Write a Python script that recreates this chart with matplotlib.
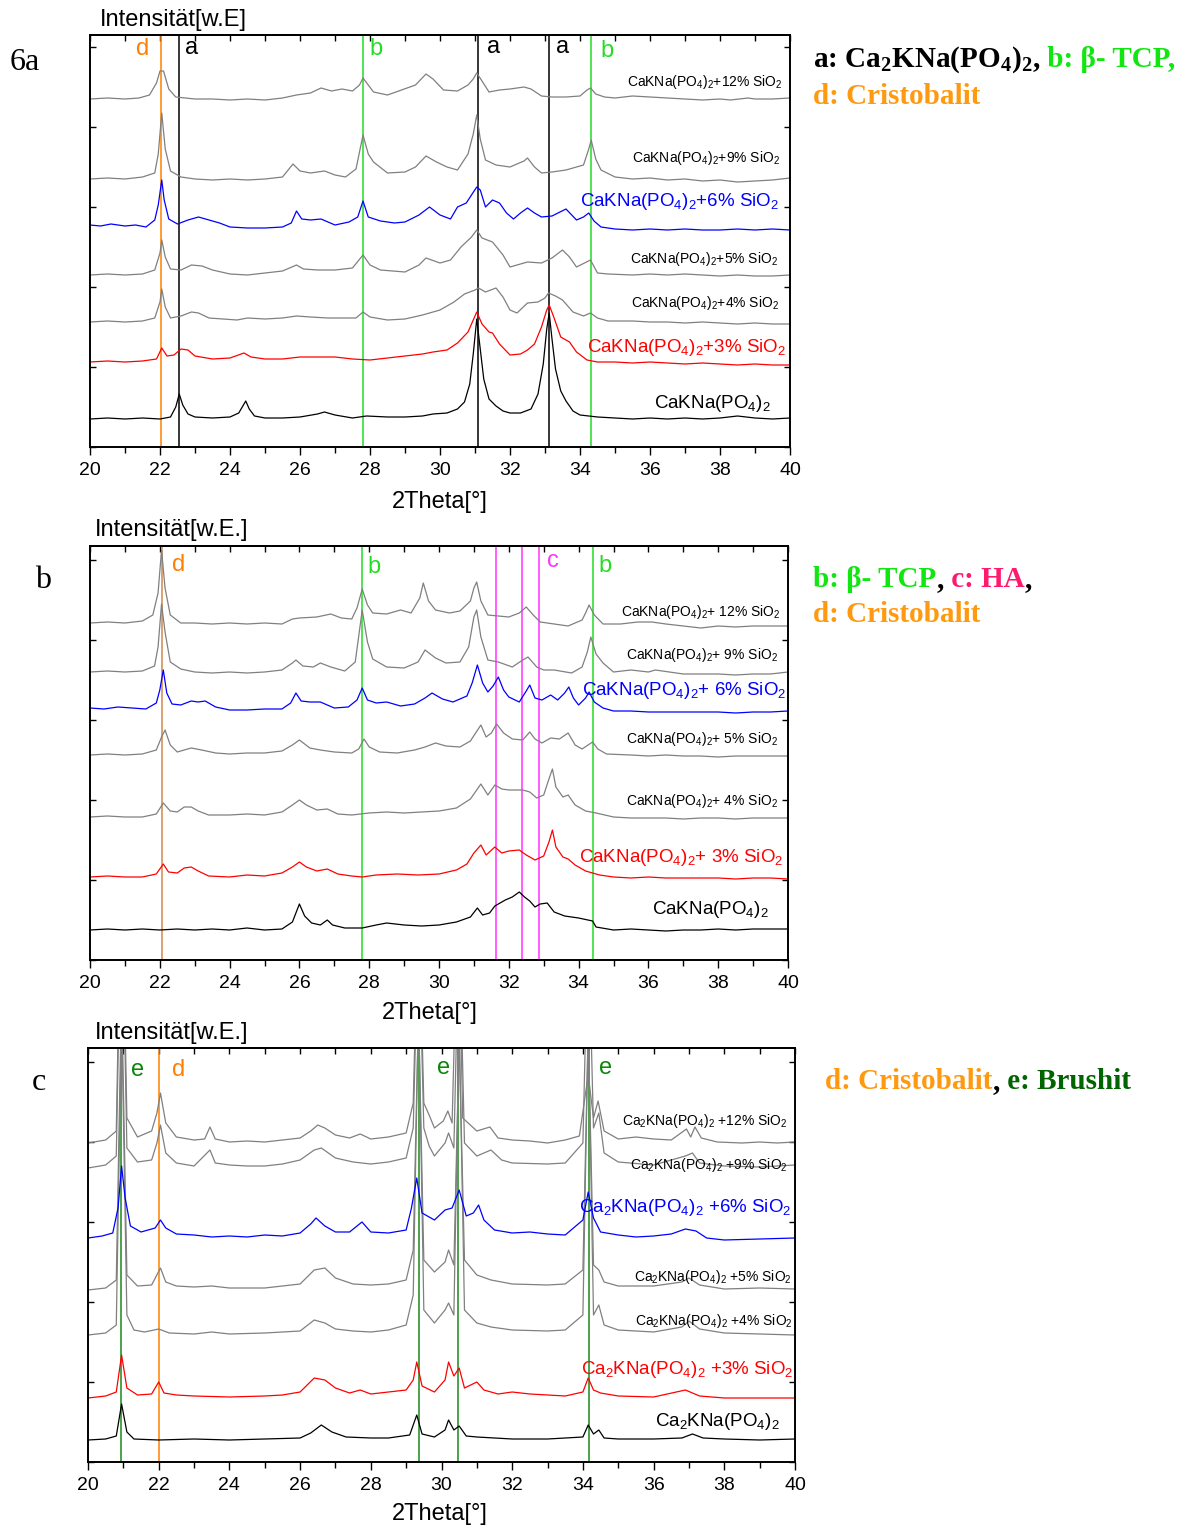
import matplotlib
matplotlib.use('Agg')
import matplotlib.pyplot as plt
import matplotlib.transforms as mtransforms
from matplotlib.ticker import MultipleLocator

plt.rcParams['font.family'] = ['Liberation Sans', 'DejaVu Sans']
plt.rcParams['mathtext.fontset'] = 'custom'
plt.rcParams['mathtext.rm'] = 'Liberation Sans'
plt.rcParams['mathtext.it'] = 'Liberation Sans:italic'
plt.rcParams['mathtext.bf'] = 'Liberation Serif:bold'
plt.rcParams['mathtext.default'] = 'rm'

W, H = 1186, 1526

# ---------------- data: (2Theta, intensity above own baseline) ----------------
# Panel a
A_PURE = [(20,0),(20.5,1),(21,0),(21.5,1),(22,0),(22.3,2),(22.45,12),(22.55,25),(22.65,14),(22.8,5),(23,2),(23.5,1),(24,2),(24.25,6),(24.45,18),(24.55,10),(24.7,3),(25,1),(25.5,1),(26,2),(26.5,5),(26.7,7),(27,4),(27.5,1),(27.9,3),(28.5,2),(29,2),(29.5,3),(29.8,5),(30.2,6),(30.5,10),(30.7,17),(30.85,35),(30.95,65),(31.05,100),(31.15,70),(31.25,40),(31.4,20),(31.6,13),(31.8,8),(32,6),(32.3,6),(32.6,10),(32.8,25),(32.95,55),(33.05,90),(33.12,106),(33.2,80),(33.3,50),(33.45,28),(33.6,18),(33.8,8),(34,4),(34.5,2),(35,1),(35.5,0),(36,1),(36.5,0),(37,1),(37.5,0),(38,1),(38.5,3),(39,1),(39.5,0),(40,1)]
A_3 = [(20,0),(20.5,1),(21,0),(21.5,1),(21.9,3),(22.05,14),(22.2,6),(22.4,7),(22.6,13),(22.8,12),(23,6),(23.5,3),(24,4),(24.4,9),(24.6,5),(25,3),(25.5,3),(26,5),(26.5,5),(27,5),(27.5,3),(28,2),(28.5,4),(29,6),(29.5,8),(29.8,10),(30.2,12),(30.5,19),(30.8,30),(30.95,42),(31.05,50),(31.2,38),(31.4,30),(31.5,29),(31.7,18),(32,7),(32.3,8),(32.5,12),(32.7,18),(32.9,35),(33.05,52),(33.12,57),(33.25,45),(33.45,25),(33.7,20),(33.9,10),(34.2,2),(34.5,0),(35,0),(35.5,-1),(36,0),(36.5,-1),(37,-2),(37.5,-1),(38,-2),(38.5,-3),(39,-2),(39.5,-3),(40,-3)]
A_4 = [(20,0),(20.5,1),(21,0),(21.5,1),(21.85,4),(22,20),(22.05,33),(22.15,15),(22.3,4),(22.6,6),(22.9,10),(23.1,9),(23.4,4),(23.8,3),(24.2,2),(24.5,4),(25,3),(25.5,4),(25.9,6),(26.3,5),(26.8,4),(27.2,4),(27.6,4),(27.8,10),(28,5),(28.5,2),(29,3),(29.5,7),(30,12),(30.4,20),(30.7,28),(31,32),(31.1,34),(31.3,30),(31.6,34),(31.8,25),(32,12),(32.2,9),(32.5,19),(32.8,20),(33,24),(33.1,29),(33.3,26),(33.5,22),(33.8,10),(34.1,6),(34.3,9),(34.5,4),(34.8,1),(35.5,1),(36,0),(36.5,0),(37,-1),(37.5,0),(38,-1),(38.5,-2),(39,-1),(39.5,-2),(40,-2)]
A_5 = [(20,0),(20.5,1),(21,0),(21.5,1),(21.85,5),(22,22),(22.05,35),(22.15,18),(22.3,6),(22.6,5),(22.9,10),(23.2,9),(23.5,5),(24,1),(24.5,0),(25,2),(25.5,4),(25.9,10),(26.1,6),(26.5,5),(27,5),(27.5,7),(27.8,20),(28,10),(28.3,5),(29,3),(29.4,10),(29.6,17),(30,12),(30.3,15),(30.6,28),(30.9,38),(31.05,45),(31.2,37),(31.5,33),(31.8,20),(32,8),(32.3,11),(32.5,13),(32.9,12),(33.2,17),(33.5,25),(33.7,18),(33.9,8),(34.3,15),(34.5,2),(34.8,1),(35.5,0),(36,1),(36.5,0),(37,1),(37.5,0),(38,-1),(38.5,0),(39,-1),(39.5,-1),(40,0)]
A_6 = [(20,0),(20.3,-1),(20.6,1),(21,-1),(21.3,0),(21.6,-2),(21.85,5),(21.95,20),(22.05,45),(22.12,25),(22.25,6),(22.5,1),(22.8,5),(23.1,8),(23.4,5),(23.7,2),(24,-2),(24.5,-3),(25,-3),(25.5,-2),(25.75,2),(25.9,14),(26.05,6),(26.3,5),(26.6,6),(27,0),(27.4,3),(27.65,8),(27.8,24),(27.95,8),(28.3,4),(28.7,2),(29,3),(29.4,10),(29.7,18),(30,10),(30.3,6),(30.5,18),(30.75,22),(30.9,30),(31.05,38),(31.15,35),(31.3,18),(31.5,25),(31.7,22),(31.9,12),(32.1,6),(32.3,12),(32.5,17),(32.7,12),(32.9,8),(33.2,9),(33.6,16),(33.9,5),(34.1,8),(34.25,12),(34.4,4),(34.6,-2),(35,-4),(35.5,-5),(36,-4),(36.5,-5),(37,-4),(37.5,-5),(38,-5),(38.5,-4),(39,-5),(39.5,-4),(40,-5)]
A_9 = [(20,0),(20.5,1),(21,0),(21.5,2),(21.85,6),(21.95,25),(22.05,66),(22.15,30),(22.3,8),(22.6,2),(23,0),(23.5,-1),(24,0),(24.5,-1),(25,0),(25.5,2),(25.8,15),(26,8),(26.3,6),(26.7,8),(27,4),(27.3,2),(27.6,10),(27.8,44),(27.95,25),(28.1,17),(28.5,6),(29,7),(29.3,12),(29.6,23),(29.9,17),(30.2,12),(30.5,9),(30.8,25),(30.95,45),(31.05,64),(31.15,40),(31.3,19),(31.6,14),(32,12),(32.4,18),(32.5,21),(32.7,12),(32.9,6),(33.2,7),(33.6,9),(33.9,12),(34.1,14),(34.25,30),(34.32,39),(34.45,20),(34.6,9),(35,2),(35.5,0),(36,1),(36.5,-1),(37,0),(37.5,-2),(38,-1),(38.5,-3),(39,-2),(39.5,-1),(40,1)]
A_12 = [(20,0),(20.5,1),(21,0),(21.4,1),(21.7,4),(21.9,16),(22,28),(22.1,28),(22.25,10),(22.45,2),(23,0),(23.5,0),(24,-1),(24.5,0),(25,-1),(25.5,1),(25.9,4),(26.3,6),(26.6,11),(26.9,8),(27.2,10),(27.5,8),(27.7,14),(27.8,21),(27.95,14),(28.1,7),(28.5,4),(28.9,9),(29.3,14),(29.6,25),(29.8,20),(30.1,9),(30.5,8),(30.8,14),(30.95,20),(31.05,26),(31.2,18),(31.4,7),(31.7,9),(32,10),(32.4,12),(32.6,10),(32.9,3),(33.2,2),(33.6,2),(34,3),(34.2,9),(34.3,11),(34.45,5),(34.7,2),(35,1),(35.5,3),(36,2),(36.5,1),(37,0),(37.5,-1),(38,0),(38.3,-1),(38.8,1),(39,0),(39.5,0),(40,1)]
A_OFFSETS = [28, 85, 125, 172, 222, 268, 348]

# Panel b
B_PURE = [(20,0),(20.5,1),(21,0),(21.5,1),(22,0),(22.5,1),(23,0),(23.5,1),(24,0),(24.5,2),(25,0),(25.5,1),(25.8,8),(26,26),(26.15,14),(26.35,7),(26.6,5),(26.8,10),(26.95,5),(27.3,2),(27.8,2),(28.2,5),(28.5,7),(29,5),(29.5,4),(30,5),(30.5,8),(30.9,13),(31.1,22),(31.25,15),(31.45,17),(31.6,24),(31.9,30),(32.1,33),(32.3,38),(32.45,33),(32.6,29),(32.75,23),(32.9,26),(33.1,27),(33.3,18),(33.6,14),(34,12),(34.4,9),(34.5,3),(35,0),(35.5,1),(36,0),(36.5,-1),(37,0),(37.5,0),(38,1),(38.5,0),(39,1),(39.5,1),(40,1)]
B_3 = [(20,0),(20.5,1),(21,0),(21.5,0),(21.9,3),(22.1,13),(22.25,5),(22.5,4),(22.7,9),(22.9,10),(23.1,6),(23.4,1),(24,0),(24.5,2),(25,1),(25.5,4),(25.8,10),(26,15),(26.2,10),(26.5,6),(26.8,8),(27.1,3),(27.5,1),(27.8,0),(28.2,2),(28.8,3),(29.4,2),(30,3),(30.5,7),(30.8,13),(31,24),(31.2,32),(31.35,22),(31.6,30),(31.8,24),(32,26),(32.3,27),(32.5,22),(32.75,17),(33,21),(33.15,35),(33.25,47),(33.35,30),(33.55,20),(33.7,18),(33.9,12),(34.2,6),(34.6,2),(35,0),(35.5,-1),(36,0),(36.5,-1),(37,-1),(37.5,-1),(38,-1),(38.5,-2),(39,-1),(39.5,-1),(40,-2)]
B_4 = [(20,0),(20.5,1),(21,0),(21.5,0),(21.9,3),(22.1,14),(22.3,6),(22.5,5),(22.7,10),(22.9,10),(23.1,6),(23.4,2),(24,2),(24.5,3),(25,2),(25.5,5),(25.8,12),(26,17),(26.2,12),(26.5,7),(26.8,8),(27.1,3),(27.5,2),(28,4),(28.5,5),(29,4),(29.5,5),(30,6),(30.5,9),(30.9,18),(31.2,33),(31.4,22),(31.6,32),(31.8,28),(32,27),(32.4,27),(32.6,25),(32.8,19),(33,22),(33.15,38),(33.25,48),(33.35,30),(33.55,20),(33.7,22),(33.9,12),(34.2,6),(34.5,4),(35,0),(35.5,-1),(36,-1),(36.5,-1),(37,-2),(37.5,-1),(38,-1),(38.5,-2),(39,-1),(39.5,-1),(40,-1)]
B_5 = [(20,0),(20.5,1),(21,0),(21.5,1),(21.9,5),(22.05,18),(22.15,25),(22.3,10),(22.5,3),(22.9,7),(23.2,5),(23.6,2),(24,1),(24.5,2),(25,2),(25.5,4),(25.8,10),(26,15),(26.3,7),(26.6,5),(27,3),(27.5,2),(27.7,6),(27.85,16),(28,8),(28.3,3),(28.8,2),(29.3,5),(29.6,8),(29.9,12),(30.2,9),(30.6,8),(30.9,14),(31.2,30),(31.35,18),(31.5,22),(31.65,31),(31.85,22),(32.1,16),(32.4,15),(32.6,23),(32.75,16),(32.95,12),(33.2,17),(33.45,16),(33.7,22),(33.9,10),(34.1,6),(34.4,13),(34.55,6),(34.8,1),(35.5,0),(36,-1),(36.5,0),(37,-1),(37.5,-1),(38,-2),(38.5,-1),(39,-1),(39.5,-1),(40,-1)]
B_6 = [(20,0),(20.4,-1),(20.8,1),(21.2,0),(21.6,-1),(21.9,5),(22,18),(22.1,38),(22.2,15),(22.35,4),(22.6,3),(22.9,7),(23.1,6),(23.3,7),(23.6,1),(24,-2),(24.5,-2),(25,-1),(25.5,-1),(25.75,5),(25.9,15),(26.05,7),(26.3,6),(26.6,6),(27,0),(27.4,1),(27.65,8),(27.8,20),(27.95,8),(28.2,5),(28.5,6),(28.9,2),(29.3,4),(29.6,10),(29.8,15),(30.1,9),(30.4,6),(30.8,12),(30.95,25),(31.1,43),(31.25,25),(31.4,16),(31.55,22),(31.7,31),(31.85,18),(32,11),(32.3,6),(32.5,17),(32.6,23),(32.75,10),(32.95,8),(33.2,13),(33.4,8),(33.6,15),(33.72,21),(33.85,10),(34,3),(34.2,10),(34.3,16),(34.45,6),(34.7,0),(35,-3),(35.5,-3),(36,-4),(36.5,-4),(37,-4),(37.5,-4),(38,-4),(38.5,-5),(39,-4),(39.5,-4),(40,-3)]
B_9 = [(20,0),(20.5,1),(21,0),(21.5,1),(21.85,6),(21.95,25),(22.05,68),(22.15,40),(22.3,10),(22.6,3),(23,0),(23.5,-1),(24,0),(24.5,-1),(25,0),(25.5,2),(25.8,9),(25.9,12),(26.1,6),(26.4,5),(26.6,9),(26.9,5),(27.3,1),(27.6,10),(27.8,62),(27.95,30),(28.1,13),(28.5,5),(29,4),(29.4,10),(29.6,22),(29.9,14),(30.2,9),(30.6,10),(30.85,25),(31,55),(31.08,62),(31.2,35),(31.4,12),(31.7,10),(32.1,5),(32.4,12),(32.55,15),(32.8,5),(33,2),(33.3,2),(33.8,-1),(34.1,5),(34.25,20),(34.35,35),(34.5,18),(34.7,9),(35,0),(35.5,2),(36,0),(36.2,2),(36.6,0),(37,-2),(37.5,-2),(38,-2),(38.5,-3),(39,-2),(39.5,-2),(40,0)]
B_12 = [(20,0),(20.5,1),(21,0),(21.5,2),(21.8,8),(21.95,30),(22.05,73),(22.15,35),(22.3,8),(22.6,0),(23,0),(23.5,-1),(24,0),(24.5,-1),(25,0),(25.5,-1),(25.8,4),(26,5),(26.5,6),(26.9,9),(27.2,5),(27.5,4),(27.65,15),(27.8,34),(27.95,18),(28.1,10),(28.5,9),(28.9,13),(29.2,10),(29.45,25),(29.55,40),(29.7,22),(29.9,13),(30.3,10),(30.6,12),(30.9,22),(31,35),(31.08,41),(31.2,22),(31.4,8),(31.7,7),(32,6),(32.3,10),(32.5,16),(32.7,8),(32.9,1),(33.3,-1),(33.7,-3),(34.1,3),(34.2,10),(34.3,18),(34.45,8),(34.7,-1),(35.2,-1),(35.7,1),(36.1,1),(36.5,-1),(37,-3),(37.5,-5),(38,-3),(38.5,-4),(39,-3),(39.5,-3),(40,-3)]
B_OFFSETS = [30, 83, 143, 205, 252, 288, 337]

# Panel c
C_PURE = [(20,0),(20.5,1),(20.8,4),(20.95,36),(21.1,8),(21.3,1),(22,0),(23,1),(24,0),(25,1),(26,2),(26.3,7),(26.6,15),(26.9,8),(27.3,3),(28,2),(28.5,2),(29.1,5),(29.3,25),(29.45,6),(29.8,3),(30.1,10),(30.2,20),(30.35,10),(30.5,14),(30.7,4),(31,3),(32,1),(33,1),(34,3),(34.15,15),(34.3,6),(34.45,10),(34.6,2),(35,1),(36,1),(36.8,2),(37.1,6),(37.4,2),(38,1),(39,0),(40,1)]
C_3 = [(20,0),(20.5,2),(20.8,6),(20.95,43),(21.1,10),(21.4,3),(21.8,4),(22,16),(22.15,5),(22.5,3),(23,2),(24,1),(25,2),(25.5,3),(26,6),(26.4,20),(26.7,18),(27,10),(27.4,5),(27.7,8),(28,4),(28.5,6),(29,8),(29.2,18),(29.3,36),(29.45,12),(29.8,6),(30.1,18),(30.2,36),(30.35,22),(30.5,30),(30.65,10),(31,16),(31.2,8),(31.6,4),(32,6),(32.5,4),(33,3),(33.5,2),(34,6),(34.15,20),(34.3,8),(34.5,5),(35,2),(36,1),(36.9,8),(37.3,2),(38,0),(39,0),(40,0)]
C_4 = [(20,0),(20.5,2),(20.8,10),(20.95,320),(21.1,20),(21.3,5),(21.6,3),(22,6),(22.3,2),(23,1),(23.5,3),(24,1),(25,2),(26,4),(26.4,15),(26.7,12),(27,6),(27.5,4),(28,3),(28.5,5),(29,10),(29.2,40),(29.35,330),(29.5,25),(29.8,12),(30.1,25),(30.2,32),(30.35,20),(30.5,310),(30.65,25),(31,12),(31.4,8),(32,5),(33,4),(33.5,5),(34,20),(34.15,310),(34.3,20),(34.45,30),(34.6,10),(35,5),(36,3),(36.8,8),(37,14),(37.3,6),(38,2),(39,1),(40,0)]
C_5 = [(20,0),(20.5,2),(20.8,10),(20.95,300),(21.1,15),(21.4,4),(21.8,5),(22.05,22),(22.2,8),(22.5,4),(23,3),(23.5,4),(24,2),(25,2),(26,6),(26.4,20),(26.7,22),(27,12),(27.5,6),(28,5),(28.5,6),(29,10),(29.2,40),(29.35,280),(29.5,30),(29.8,18),(30.1,28),(30.2,40),(30.35,25),(30.5,250),(30.65,30),(31,15),(31.4,10),(32,6),(33,5),(33.5,6),(34,20),(34.15,260),(34.3,25),(34.45,20),(34.6,8),(35,4),(36,4),(36.8,8),(37,12),(37.3,5),(38,1),(39,2),(40,1)]
C_6 = [(20,0),(20.4,2),(20.7,5),(20.85,30),(20.95,72),(21.05,40),(21.2,12),(21.5,6),(21.9,10),(22.05,18),(22.2,10),(22.5,4),(23,3),(23.5,1),(24,2),(24.5,1),(25,3),(25.5,2),(26,5),(26.3,14),(26.45,20),(26.7,12),(27,6),(27.4,6),(27.75,16),(28,6),(28.5,5),(29,8),(29.15,30),(29.3,60),(29.45,25),(29.8,18),(30.1,28),(30.3,30),(30.5,48),(30.7,22),(30.9,25),(31.05,33),(31.2,18),(31.5,8),(32,5),(32.5,6),(33,4),(33.5,3),(34,18),(34.15,46),(34.3,20),(34.5,6),(35,3),(35.5,1),(36,2),(36.5,4),(36.9,9),(37.2,7),(37.5,0),(38,-2),(39,-1),(40,0)]
C_9 = [(20,0),(20.5,3),(20.8,12),(20.95,300),(21.1,20),(21.4,6),(21.8,8),(21.95,25),(22.05,43),(22.2,15),(22.5,5),(23,2),(23.45,18),(23.6,5),(24,3),(24.5,2),(25,2),(25.5,4),(26,8),(26.4,18),(26.6,20),(27,10),(27.5,6),(28,4),(28.5,6),(29,10),(29.2,40),(29.35,250),(29.5,40),(29.65,22),(29.8,12),(30.1,25),(30.2,35),(30.35,20),(30.5,250),(30.65,25),(31,12),(31.4,18),(31.7,8),(32,5),(33,4),(33.5,5),(34,25),(34.15,250),(34.3,40),(34.45,55),(34.6,15),(35,6),(36,3),(36.9,12),(37.1,15),(37.3,5),(38,2),(39,1),(40,3)]
C_12 = [(20,0),(20.5,3),(20.8,12),(20.95,300),(21.1,25),(21.4,6),(21.8,12),(21.95,30),(22.05,50),(22.2,20),(22.5,6),(23,3),(23.3,4),(23.45,16),(23.6,4),(24,1),(24.5,2),(25,1),(25.5,3),(26,5),(26.3,12),(26.5,18),(26.7,15),(27,8),(27.4,5),(27.7,9),(28,4),(28.5,6),(29,10),(29.2,40),(29.35,250),(29.5,40),(29.65,28),(29.8,15),(30.05,22),(30.18,32),(30.3,20),(30.47,250),(30.6,25),(31,12),(31.37,16),(31.6,5),(32,3),(32.5,2),(33,0),(33.5,3),(33.9,7),(34.15,68),(34.3,25),(34.43,42),(34.6,12),(35,4),(35.5,6),(36,4),(36.5,3),(36.93,14),(37.05,6),(37.17,16),(37.35,5),(37.8,1),(38.5,0),(39,1),(39.5,0),(40,1)]
C_OFFSETS = [22, 64, 127, 172, 224, 294, 319]

X_TICKS = list(range(20, 41, 2))

A_LABELS = ["CaKNa(PO$_4$)$_2$", "CaKNa(PO$_4$)$_2$+3% SiO$_2$", "CaKNa(PO$_4$)$_2$+4% SiO$_2$",
            "CaKNa(PO$_4$)$_2$+5% SiO$_2$", "CaKNa(PO$_4$)$_2$+6% SiO$_2$", "CaKNa(PO$_4$)$_2$+9% SiO$_2$",
            "CaKNa(PO$_4$)$_2$+12% SiO$_2$"]
B_LABELS = ["CaKNa(PO$_4$)$_2$", "CaKNa(PO$_4$)$_2$+ 3% SiO$_2$", "CaKNa(PO$_4$)$_2$+ 4% SiO$_2$",
            "CaKNa(PO$_4$)$_2$+ 5% SiO$_2$", "CaKNa(PO$_4$)$_2$+ 6% SiO$_2$", "CaKNa(PO$_4$)$_2$+ 9% SiO$_2$",
            "CaKNa(PO$_4$)$_2$+ 12% SiO$_2$"]
C_LABELS = ["Ca$_2$KNa(PO$_4$)$_2$", "Ca$_2$KNa(PO$_4$)$_2$ +3% SiO$_2$", "Ca$_2$KNa(PO$_4$)$_2$ +4% SiO$_2$",
            "Ca$_2$KNa(PO$_4$)$_2$ +5% SiO$_2$", "Ca$_2$KNa(PO$_4$)$_2$ +6% SiO$_2$", "Ca$_2$KNa(PO$_4$)$_2$ +9% SiO$_2$",
            "Ca$_2$KNa(PO$_4$)$_2$ +12% SiO$_2$"]

# reference lines (2Theta, phase)
A_REF = [(22.03, 'd'), (22.54, 'a'), (27.8, 'b'), (31.08, 'a'), (33.11, 'a'), (34.31, 'b')]
B_REF = [(22.07, 'd'), (27.79, 'b'), (31.64, 'c'), (32.39, 'c'), (32.86, 'c'), (34.41, 'b')]
C_REF = [(20.93, 'e'), (22.0, 'd'), (29.36, 'e'), (30.47, 'e'), (34.17, 'e')]

# ---------------- styling ----------------
TRACE_COLORS = ['black', '#ff0000', '#808080', '#808080', '#0000ff', '#808080', '#808080']
BIG = [True, True, False, False, True, False, False]
LINE_COLORS = {'a': 'black', 'b': '#22dd22', 'c': '#ff33ff', 'd': '#ff8000', 'e': '#1a8a1a'}
LETTER_COLORS = {'a': 'black', 'b': '#22dd22', 'c': '#ff33ff', 'd': '#ff8000', 'e': '#0a870a'}

fig = plt.figure(figsize=(W / 100, H / 100), dpi=100)


def rect(l, r, t, b):
    return [l / W, 1 - b / H, (r - l) / W, (b - t) / H]


def make_axes(box, height):
    ax = fig.add_axes(rect(*box))
    ax.set_xlim(20, 40)
    ax.set_ylim(0, height)
    ax.set_xticks(X_TICKS)
    ax.xaxis.set_minor_locator(MultipleLocator(1))
    ax.yaxis.set_major_locator(MultipleLocator(80))
    ax.set_yticklabels([])
    ax.tick_params(axis='x', which='both', direction='out', top=False, labelsize=14, pad=5)
    ax.tick_params(axis='x', which='major', length=6, width=1)
    ax.tick_params(axis='x', which='minor', length=4, width=1)
    ax.tick_params(axis='y', which='both', direction='in', left=True, right=True, length=4, width=1)
    sec = ax.secondary_xaxis('top')
    sec.set_xticks(X_TICKS)
    sec.xaxis.set_minor_locator(MultipleLocator(1))
    sec.tick_params(axis='x', which='both', direction='in', labeltop=False, length=4, width=1)
    sec.tick_params(axis='x', which='minor', length=4)
    sec.spines['top'].set_linewidth(1.4)
    for s in ax.spines.values():
        s.set_linewidth(1.4)
    return ax


def draw_panel(ax, traces, offsets, labels, label_pos, refs, letters, small_fs, big_fs, dcolor=None):
    for x0, key in refs:
        col = LINE_COLORS[key]
        if key == 'd' and dcolor:
            col = dcolor
        ax.axvline(x0, color=col, lw=1.1, zorder=1)
    for lx, ly, lab in letters:
        ax.text(lx, ly, lab, color=LETTER_COLORS[lab], fontsize=17, ha='center', va='center')
    for i, (tr, off) in enumerate(zip(traces, offsets)):
        xs = [p[0] for p in tr]
        ys = [p[1] + off for p in tr]
        ax.plot(xs, ys, color=TRACE_COLORS[i], lw=0.9, zorder=2)
        lx, ly = label_pos[i]
        ax.text(lx, ly, labels[i], color=TRACE_COLORS[i] if TRACE_COLORS[i] != '#808080' else 'black',
                fontsize=big_fs if BIG[i] else small_fs, ha='right', va='center', zorder=3)


# Panel a
axa = make_axes((90, 790, 35, 447), 412)
draw_panel(axa, [A_PURE, A_3, A_4, A_5, A_6, A_9, A_12], A_OFFSETS, A_LABELS,
           [(39.45, 44), (39.88, 99), (39.7, 144), (39.65, 188), (39.7, 245), (39.72, 289), (39.8, 365)],
           A_REF, [(21.49, 398, 'd'), (22.89, 399, 'a'), (28.17, 398, 'b'), (31.54, 400, 'a'),
                   (33.49, 400, 'a'), (34.77, 396, 'b')],
           10, 13.5)

# Panel b
axb = make_axes((90, 788, 546, 960), 414)
draw_panel(axb, [B_PURE, B_3, B_4, B_5, B_6, B_9, B_12], B_OFFSETS, B_LABELS,
           [(39.45, 51), (39.88, 103), (39.7, 159), (39.7, 221), (39.95, 270), (39.7, 305), (39.8, 348)],
           B_REF, [(22.55, 395, 'd'), (28.14, 393, 'b'), (33.27, 399, 'c'), (34.76, 394, 'b')],
           10, 13.5, dcolor='#d08a4a')

# Panel c
axc = make_axes((88, 795, 1048, 1462), 414)
draw_panel(axc, [C_PURE, C_3, C_4, C_5, C_6, C_9, C_12], C_OFFSETS, C_LABELS,
           [(39.57, 40), (39.95, 93), (39.95, 141), (39.9, 185), (39.9, 255), (39.8, 297), (39.8, 341)],
           C_REF, [(21.41, 392, 'e'), (22.57, 392, 'd'), (30.07, 394, 'e'), (34.65, 394, 'e')],
           10, 13.5)

# axis titles
for ax, (ix, iy), ylab, (tx, ty) in [
        (axa, (100, 20), 'Intensität[w.E]', (440, 502)),
        (axb, (95, 530), 'Intensität[w.E.]', (430, 1013)),
        (axc, (95, 1033), 'Intensität[w.E.]', (440, 1514))]:
    fig.text(ix / W, 1 - iy / H, ylab, fontsize=17, ha='left', va='center')
    fig.text(tx / W, 1 - ty / H, '2Theta[°]', fontsize=17, ha='center', va='center')

# panel letters
for txt, x, y in [('6a', 10, 63), ('b', 35, 580), ('c', 32, 1083)]:
    fig.text(x / W, 1 - y / H, txt, fontsize=23, family='Liberation Serif', ha='left', va='center')

# multi-coloured phase legends
renderer = fig.canvas.get_renderer()
ident = mtransforms.IdentityTransform()


def chain(x, y, pieces, fs=21):
    px = x
    for txt, col in pieces:
        t = fig.text(px, H - y, txt, color=col, fontsize=fs, family='Liberation Serif',
                     weight='bold', va='baseline', ha='left', transform=ident)
        px += t.get_window_extent(renderer).width


GREEN = '#11e611'
ORANGE = '#ff9a10'
chain(813, 67, [('a: Ca$_\\mathbf{2}$KNa(PO$_\\mathbf{4}$)$_\\mathbf{2}$,', 'black'), (' b: β- TCP,', GREEN)])
chain(813, 104, [('d: Cristobalit', ORANGE)])
chain(813, 587, [('b: β- TCP', GREEN), (',', 'black'), (' c: HA', '#ff1a6e'), (',', 'black')])
chain(813, 622, [('d: Cristobalit', ORANGE)])
chain(825, 1089, [('d: Cristobalit', ORANGE), (',', 'black'), (' e: Brushit', '#006400')])

fig.savefig('out.png', dpi=100)
